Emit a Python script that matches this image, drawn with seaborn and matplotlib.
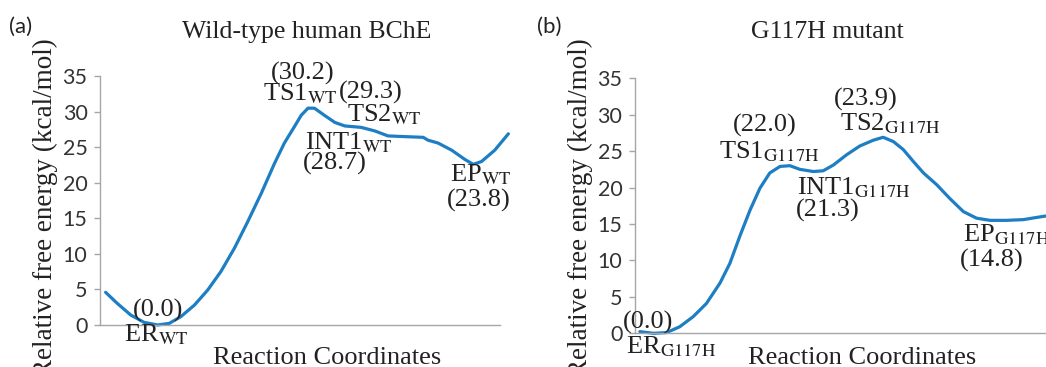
import pandas as pd
import matplotlib.pyplot as plt
import seaborn as sns

# Reaction coordinate (arbitrary units, 0-100 along the x-axis) and free energy (kcal/mol)
wt_x = [1.4, 4.3, 7.7, 11.0, 14.4, 17.3, 20.2, 23.6, 26.9, 30.2, 33.6, 36.9, 40.3,
        43.6, 46.1, 48.6, 50.3, 52.0, 53.6, 56.1, 58.7, 61.2, 65.3, 68.7, 72.0,
        76.2, 80.8, 82.0, 84.5, 87.9, 91.2, 93.3, 95.4, 98.7, 102.1]
wt_energy = [4.6, 3.05, 1.4, 0.38, 0.0, 0.23, 1.17, 2.8, 4.9, 7.5, 10.8, 14.5, 18.5,
             22.7, 25.6, 27.9, 29.5, 30.5, 30.5, 29.5, 28.5, 28.0, 27.8, 27.3, 26.6,
             26.5, 26.4, 26.0, 25.6, 24.6, 23.3, 22.6, 23.0, 24.6, 26.9]

mut_x = [1.2, 4.5, 7.7, 10.9, 14.2, 17.4, 20.7, 23.1, 25.5, 28.0, 30.4, 32.8, 35.3,
         37.7, 40.1, 43.4, 45.8, 48.3, 51.5, 54.7, 58.0, 60.4, 62.9, 65.3, 67.7,
         70.2, 73.4, 76.6, 79.9, 83.1, 86.4, 90.4, 94.5, 97.7, 100.0]
mut_energy = [0.23, 0.0, 0.1, 0.9, 2.3, 4.1, 6.9, 9.6, 13.3, 16.9, 19.9, 22.0, 22.9,
              23.0, 22.5, 22.2, 22.3, 23.1, 24.5, 25.7, 26.5, 26.9, 26.3, 25.2, 23.6,
              22.0, 20.4, 18.5, 16.7, 15.8, 15.5, 15.5, 15.6, 15.9, 16.1]

# annotations: (text, x, baseline y)
wt_labels = [
    ('(0.0)', 14.4, 1.2),
    (r'ER$_{\mathrm{WT}}$', 14.1, -2.25),
    ('(30.2)', 50.7, 34.5),
    (r'TS1$_{\mathrm{WT}}$', 50.0, 31.6),
    ('(29.3)', 67.8, 31.9),
    (r'TS2$_{\mathrm{WT}}$', 71.0, 28.6),
    (r'INT1$_{\mathrm{WT}}$', 62.2, 24.7),
    ('(28.7)', 58.8, 21.8),
    (r'EP$_{\mathrm{WT}}$', 95.2, 20.2),
    ('(23.8)', 94.6, 16.6),
]
mut_labels = [
    ('(0.0)', 3.2, 0.7),
    (r'ER$_{\mathrm{G117H}}$', 8.8, -2.7),
    ('(22.0)', 31.6, 27.7),
    (r'TS1$_{\mathrm{G117H}}$', 32.7, 24.0),
    (r'INT1$_{\mathrm{G117H}}$', 53.3, 19.0),
    ('(21.3)', 47.0, 16.0),
    ('(23.9)', 56.2, 31.3),
    (r'TS2$_{\mathrm{G117H}}$', 62.0, 27.9),
    (r'EP$_{\mathrm{G117H}}$', 90.3, 12.6),
    ('(14.8)', 86.8, 9.1),
]

sns.set_style('white')
plt.rcParams['font.family'] = ['Liberation Serif', 'DejaVu Serif']
plt.rcParams['mathtext.fontset'] = 'stix'

line_color = '#1d7ec4'
text_color = '#222222'
fig = plt.figure(figsize=(10.46, 3.67), dpi=100)
ax_a = fig.add_axes([0.0956, 0.1144, 0.3824, 0.678])
ax_b = fig.add_axes([0.607, 0.0918, 0.393, 0.695])

panels = [
    (ax_a, wt_x, wt_energy, wt_labels, '(a)', 'Wild-type human BChE',
     0.009, 0.293, 0.043, 0.313),
    (ax_b, mut_x, mut_energy, mut_labels, '(b)', 'G117H mutant',
     0.513, 0.791, 0.555, 0.824),
]

for ax, xs, ys, labels, tag, title, tag_x, title_x, ylab_x, xlab_x in panels:
    df = pd.DataFrame({'coord': xs, 'energy': ys})
    sns.lineplot(data=df, x='coord', y='energy', ax=ax, color=line_color,
                 linewidth=2.3, clip_on=False, solid_joinstyle='round',
                 solid_capstyle='round')
    ax.set_xlim(0, 100)
    ax.set_ylim(0, 35)
    ax.set_yticks(range(0, 36, 5))
    ax.set_xticks([])
    ax.set_xlabel('')
    ax.set_ylabel('')
    for side in ['top', 'right']:
        ax.spines[side].set_visible(False)
    for side in ['left', 'bottom']:
        ax.spines[side].set_color('#a6a6a6')
        ax.spines[side].set_linewidth(1.0)
    ax.tick_params(axis='y', left=True, length=4, width=1, color='#a6a6a6',
                   pad=5, labelsize=15.5, labelcolor='#333333')
    for lab in ax.get_yticklabels():
        lab.set_family('Lato')
    ax.patch.set_alpha(0)

    for text, x, y in labels:
        ax.text(x, y, text, fontsize=19, ha='center', va='baseline', color=text_color)

    fig.text(tag_x, 0.926, tag, fontsize=16, family='Lato', color=text_color, va='center')
    fig.text(title_x, 0.913, title, fontsize=18.5, ha='center', va='center',
             color=text_color)
    fig.text(ylab_x, 0.433, 'Relative free energy (kcal/mol)', fontsize=19.5,
             rotation=90, ha='center', va='center', color=text_color)
    fig.text(xlab_x, 0.025, 'Reaction Coordinates', fontsize=19, ha='center',
             va='center', color=text_color)

fig.savefig('out.png', dpi=100)
plt.close()
